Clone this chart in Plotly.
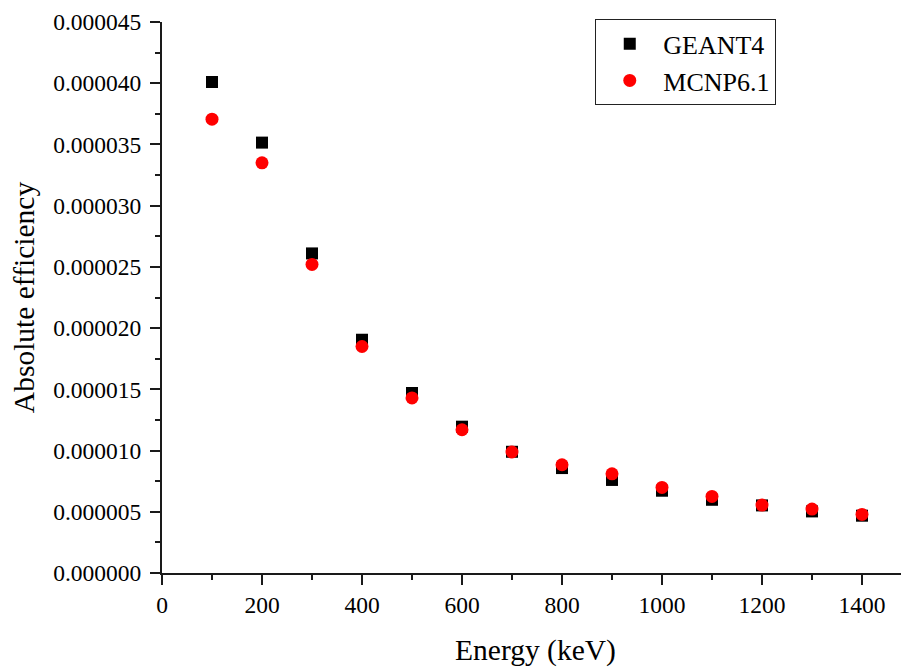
import plotly.graph_objects as go

energy = [100, 200, 300, 400, 500, 600, 700, 800, 900, 1000, 1100, 1200, 1300, 1400]
geant4 = [40.1e-6, 35.15e-6, 26.1e-6, 19.05e-6, 14.7e-6, 11.95e-6, 9.9e-6, 8.57e-6, 7.6e-6, 6.72e-6, 5.98e-6, 5.52e-6, 5.03e-6, 4.68e-6]
mcnp = [37.06e-6, 33.5e-6, 25.2e-6, 18.5e-6, 14.3e-6, 11.7e-6, 9.88e-6, 8.84e-6, 8.1e-6, 6.99e-6, 6.25e-6, 5.55e-6, 5.22e-6, 4.78e-6]

FONT = "Liberation Serif, Times New Roman, serif"

fig = go.Figure()
fig.add_trace(go.Scatter(x=energy, y=geant4, mode="markers", name="GEANT4",
                         marker=dict(symbol="square", size=12, color="black")))
fig.add_trace(go.Scatter(x=energy, y=mcnp, mode="markers", name="MCNP6.1",
                         marker=dict(symbol="circle", size=13, color="#ff0000")))

axis_common = dict(
    showline=True, linecolor="#1a1a1a", linewidth=2, mirror=False,
    ticks="outside", ticklen=10, tickwidth=2, tickcolor="#1a1a1a",
    showgrid=False, zeroline=False, automargin=False,
    tickfont=dict(family=FONT, size=23.5, color="black"),
)

fig.update_layout(
    width=909, height=667,
    paper_bgcolor="white", plot_bgcolor="white",
    margin=dict(l=154, r=8, t=14, b=102),
    font=dict(family=FONT, color="black"),
    xaxis=dict(axis_common, range=[0, 1494], dtick=200, tick0=0,
               minor=dict(dtick=100, ticklen=5, tickwidth=2, tickcolor="#1a1a1a", ticks="outside"),
               title=dict(text="Energy (keV)", font=dict(family=FONT, size=29.5), standoff=22)),
    yaxis=dict(axis_common, range=[0, 45e-6], dtick=5e-6, tick0=0, tickformat=".6f",
               ticklabelstandoff=4,
               minor=dict(dtick=2.5e-6, ticklen=5, tickwidth=2, tickcolor="#1a1a1a", ticks="outside"),
               title=dict(text="Absolute efficiency", font=dict(family=FONT, size=29.5), standoff=12)),
    legend=dict(x=0.58, y=1.005, xanchor="left", yanchor="top",
                bordercolor="#222", borderwidth=1, bgcolor="white",
                font=dict(family=FONT, size=26), itemwidth=57,
                tracegroupgap=0),
    showlegend=True,
)

fig.write_html("out.html")
